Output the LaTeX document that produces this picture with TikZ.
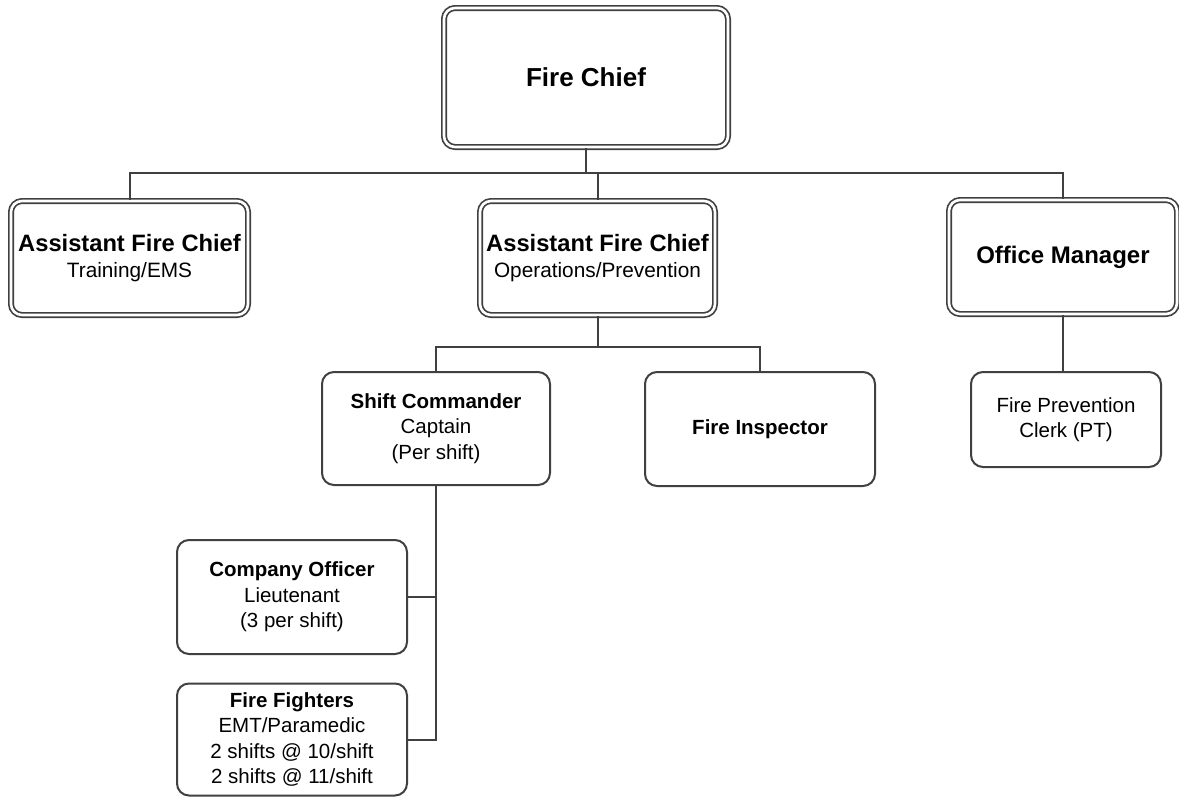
\documentclass[tikz,border=0pt]{standalone}
\usepackage{fontspec}
\setmainfont{Liberation Sans}
\definecolor{lc}{HTML}{404040}
\tikzset{
  dbox/.style={draw=lc, double=white, line width=1.7pt, double distance=2.6pt, rounded corners=11pt,
    align=center, inner sep=0pt, text=black, font=\fontsize{20.8}{26}\selectfont},
  sbox/.style={draw=lc, line width=2pt, rounded corners=12pt, fill=white,
    align=center, inner sep=0pt, text=black, font=\fontsize{20.5}{25.5}\selectfont},
  conn/.style={draw=lc, line width=2pt}
}
\newcommand{\bigb}{\fontsize{26}{30}\selectfont\bfseries}
\newcommand{\midb}{\fontsize{23.7}{26}\selectfont\bfseries}
\begin{document}
\begin{tikzpicture}[x=1pt,y=-1pt]
\useasboundingbox (0,0) rectangle (1179,796);
\fill[white] (0,0) rectangle (1179,796);
\node[dbox, minimum width=284pt, minimum height=139pt] (chief) at (586,77.5) {\bigb Fire Chief};
\node[dbox, minimum width=237pt, minimum height=114pt] (afc1) at (129.5,258) {{\midb Assistant Fire Chief}\\Training/EMS};
\node[dbox, minimum width=235pt, minimum height=114pt] (afc2) at (597.5,258) {{\midb Assistant Fire Chief}\\Operations/Prevention};
\node[dbox, minimum width=228pt, minimum height=114pt] (om) at (1063,257) {\fontsize{24}{28}\selectfont\bfseries Office Manager};
\node[sbox, minimum width=228pt, minimum height=113pt] (sc) at (436,428.5) {\textbf{Shift Commander}\\Captain\\(Per shift)};
\node[sbox, minimum width=230pt, minimum height=114pt] (fi) at (760,429) {\textbf{Fire Inspector}};
\node[sbox, minimum width=190pt, minimum height=95pt] (clerk) at (1066,419.5) {Fire Prevention\\Clerk (PT)};
\node[sbox, minimum width=230pt, minimum height=114pt] (co) at (292,597) {\textbf{Company Officer}\\Lieutenant\\(3 per shift)};
\node[sbox, minimum width=230pt, minimum height=112pt] (ff) at (292,739.5) {\textbf{Fire Fighters}\\EMT/Paramedic\\2 shifts @ 10/shift\\2 shifts @ 11/shift};
\coordinate (b1) at (0,173);
\coordinate (b2) at (0,347);
\draw[conn] (chief.south) -- (chief.south |- b1);
\draw[conn] (afc1.north) -- (afc1.north |- b1) -- (om.north |- b1) -- (om.north);
\draw[conn] (afc2.north) -- (afc2.north |- b1);
\draw[conn] (afc2.south) -- (afc2.south |- b2);
\draw[conn] (sc.north) -- (sc.north |- b2) -- (fi.north |- b2) -- (fi.north);
\draw[conn] (om.south) -- (om.south |- clerk.north);
\draw[conn] (sc.south) |- (ff.east);
\draw[conn] (co.east) -- (co.east -| sc.south);
\end{tikzpicture}
\end{document}
